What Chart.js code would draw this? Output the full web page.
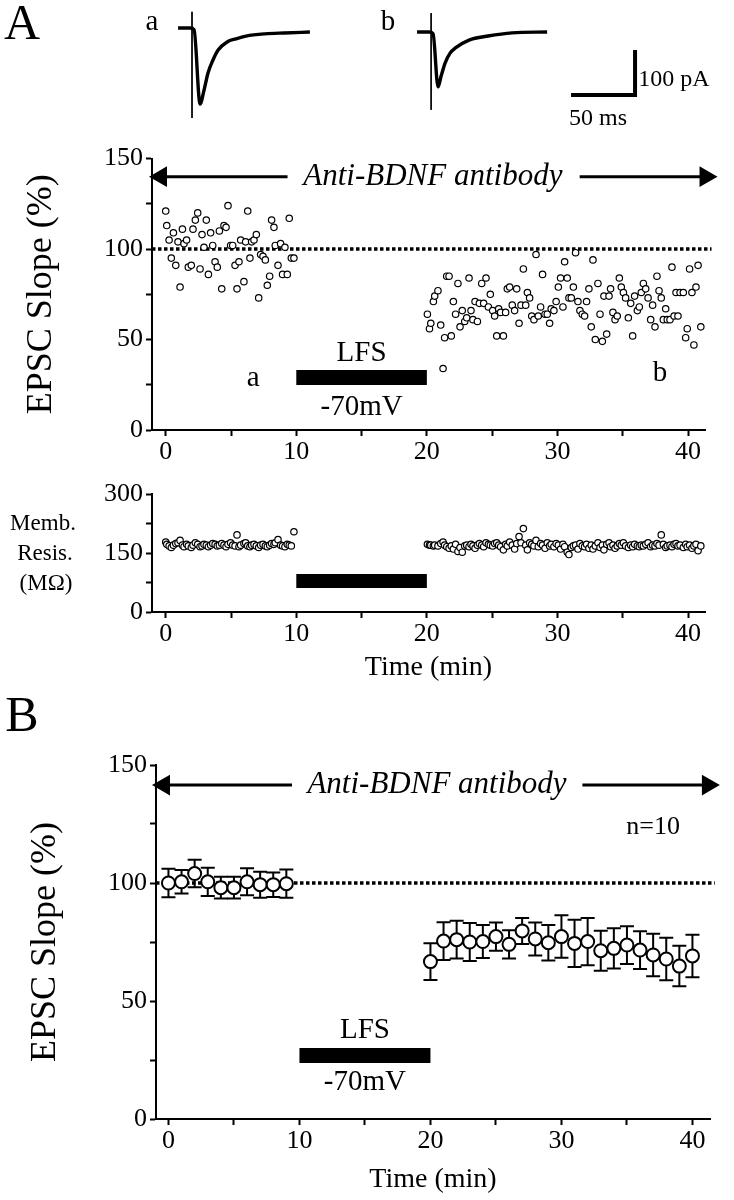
<!DOCTYPE html>
<html>
<head>
<meta charset="utf-8">
<script src="https://cdn.jsdelivr.net/npm/chart.js@4.4.0/dist/chart.umd.min.js"></script>
<style>
  body { margin: 0; background: #fff; }
  #page { position: relative; width: 734px; height: 1200px; font-family: "Liberation Serif", "Times New Roman", serif; color: #000; overflow: hidden; }
  canvas { position: absolute; left: 0; }
  .lbl { position: absolute; line-height: 1; white-space: nowrap; transform: translate(-50%, -50%); }
</style>
</head>
<body>
<div id="page">
  <canvas id="traces" width="734" height="140" style="top:0"></canvas>
  <canvas id="slopeA" width="734" height="330" style="top:140px"></canvas>
  <canvas id="resis" width="734" height="230" style="top:470px"></canvas>
  <canvas id="slopeB" width="734" height="460" style="top:740px"></canvas>

  <div class="lbl" style="left:22px;top:22px;font-size:50px">A</div>
  <div class="lbl" style="left:152px;top:20px;font-size:29px">a</div>
  <div class="lbl" style="left:388px;top:20px;font-size:29px">b</div>
  <div class="lbl" style="left:674px;top:78px;font-size:24px">100 pA</div>
  <div class="lbl" style="left:598px;top:117px;font-size:24px">50 ms</div>
  <div class="lbl" style="left:43px;top:522px;font-size:23px">Memb.</div>
  <div class="lbl" style="left:45px;top:552px;font-size:23px">Resis.</div>
  <div class="lbl" style="left:46px;top:582px;font-size:23px">(M&#937;)</div>
  <div class="lbl" style="left:22px;top:714px;font-size:50px">B</div>
</div>
<script>
// ---- data ----
// sample EPSC traces (ms, pA)
const traceATime = [0, 9.4, 12.5, 17.2, 20.3, 23.4, 27.3, 31.3, 38.3, 45.3, 53.1, 68, 82.8, 103];
const traceACurrent = [0, 0, -4, -169, -138, -100, -71, -49, -31, -24, -18, -13, -11, -9];
const traceBTime = [0, 9.4, 12.5, 16.4, 18.8, 21.9, 25.8, 29.7, 40.6, 55.5, 74.2, 101.6];
const traceBCurrent = [0, 0, -4, -122, -98, -69, -47, -36, -18, -9, -2, 0];
const artifactA = [36, -200];
const artifactB = [42, -173];
const scaleBarMs = 50;
const scaleBarPa = 100;

// single experiment, time (min)
const timesPre = [0, 0.08, 0.26, 0.43, 0.59, 0.77, 0.94, 1.1, 1.28, 1.4, 1.6, 1.73, 1.96, 2.09, 2.27, 2.45, 2.63, 2.78, 2.93, 3.11,
  3.27, 3.44, 3.6, 3.78, 3.95, 4.11, 4.29, 4.46, 4.62, 4.77, 4.97, 5.13, 5.31, 5.46, 5.61, 5.74, 5.99, 6.12, 6.28, 6.45,
  6.58, 6.76, 6.94, 7.12, 7.27, 7.45, 7.63, 7.78, 7.96, 8.11, 8.29, 8.39, 8.6, 8.8, 8.95, 9.13, 9.31, 9.46, 9.62, 9.82];
const timesPost = [20.04, 20.2, 20.3, 20.5, 20.6, 20.85, 21.06, 21.24, 21.36, 21.52, 21.7, 21.87, 22.03, 22.2, 22.38, 22.54, 22.71, 22.9, 23.05, 23.23,
  23.38, 23.53, 23.69, 23.87, 24.02, 24.2, 24.35, 24.53, 24.71, 24.86, 25.04, 25.19, 25.35, 25.5, 25.65, 25.86, 26.03, 26.16, 26.34, 26.54,
  26.72, 26.88, 27.06, 27.21, 27.39, 27.57, 27.7, 27.87, 28.03, 28.2, 28.36, 28.53, 28.71, 28.86, 29.05, 29.22, 29.4, 29.52, 29.73, 29.9,
  30.07, 30.24, 30.42, 30.55, 30.75, 30.88, 31.06, 31.22, 31.39, 31.57, 31.72, 31.9, 32.08, 32.23, 32.41, 32.59, 32.72, 32.9, 33.1, 33.26,
  33.44, 33.56, 33.77, 33.95, 34.07, 34.25, 34.41, 34.58, 34.74, 34.89, 35.05, 35.22, 35.43, 35.61, 35.76, 35.91, 36.12, 36.27, 36.42, 36.58,
  36.76, 36.94, 37.14, 37.29, 37.47, 37.62, 37.78, 37.95, 38.11, 38.29, 38.41, 38.62, 38.77, 38.93, 39.08, 39.23, 39.39, 39.64, 39.82, 39.94,
  40.12, 40.3, 40.45, 40.61, 40.77, 40.98];
const slopePre = [121, 113, 105, 95, 109, 91, 104, 79, 111, 103, 105, 90, 91, 111, 116, 120, 89, 108, 101, 116,
  86, 109, 102, 93, 90, 110, 78, 113, 112, 124, 102, 102, 91, 78, 93, 105, 82, 104, 121, 95,
  104, 105, 108, 73, 97, 96, 94, 80, 85, 116, 112, 102, 91, 103, 86, 101, 86, 117, 95, 95];
const slopePost = [64, 56, 59, 71, 74, 77, 58, 34, 51, 85, 85, 52, 71, 64, 81, 57, 66, 60, 62, 84,
  66, 61, 71, 60, 70, 81, 70, 84, 68, 75, 66, 63, 52, 67, 65, 52, 65, 78, 79, 69,
  66, 78, 59, 69, 89, 69, 76, 73, 63, 61, 97, 63, 68, 86, 64, 64, 59, 67, 66, 71,
  79, 84, 68, 93, 84, 73, 73, 79, 98, 71, 66, 64, 63, 71, 78, 57, 94, 50, 81, 64,
  49, 74, 53, 74, 78, 65, 61, 63, 84, 79, 76, 73, 62, 70, 52, 74, 66, 68, 76, 81,
  78, 73, 61, 69, 57, 85, 77, 73, 61, 67, 61, 61, 90, 63, 76, 63, 76, 76, 51, 56,
  89, 76, 47, 79, 91, 57];
const resisPre = [178, 172, 168, 164, 170, 174, 176, 182, 170, 166, 172, 168, 164, 170, 176, 172, 166, 168, 172, 170,
  166, 170, 174, 172, 168, 170, 174, 170, 166, 172, 176, 170, 168, 196, 166, 170, 174, 176, 168, 166,
  170, 172, 168, 164, 170, 172, 168, 166, 170, 174, 172, 176, 184, 170, 168, 166, 172, 170, 168, 204];
const resisPost = [172, 170, 170, 168, 170, 168, 174, 178, 170, 166, 162, 168, 160, 172, 154, 164, 152, 168, 170, 166,
  172, 168, 162, 170, 174, 170, 166, 176, 172, 170, 168, 174, 176, 170, 166, 158, 172, 168, 178, 170,
  160, 174, 192, 176, 212, 170, 158, 176, 172, 168, 182, 166, 174, 170, 162, 176, 168, 172, 166, 174,
  170, 160, 172, 166, 152, 146, 164, 168, 170, 160, 174, 168, 166, 172, 162, 170, 160, 168, 176, 164,
  170, 158, 172, 176, 166, 170, 162, 168, 174, 170, 176, 168, 164, 170, 166, 172, 168, 166, 170, 168,
  172, 176, 166, 170, 168, 174, 170, 196, 172, 164, 168, 170, 166, 172, 174, 168, 170, 164, 172, 166,
  170, 162, 168, 172, 156, 168];

// averaged, n=10
const meanTime = [0, 1, 2, 3, 4, 5, 6, 7, 8, 9,
  20, 21, 22, 23, 24, 25, 26, 27, 28, 29, 30, 31, 32, 33, 34, 35, 36, 37, 38, 39, 40];
const meanSlope = [100, 100.5, 104, 100.5, 98, 98, 100.5, 99.3, 99.3, 99.7,
  66.7, 75.4, 76, 75, 75.2, 77.3, 74, 79.7, 76.3, 74.7, 77.3, 74.4, 75.2, 71.3, 72.3, 73.7, 71.6, 69.5, 67.8, 64.8, 69.1];
const semSlope = [6, 5, 5.8, 6, 4.6, 4.6, 5.7, 5.5, 5.2, 6,
  7.8, 8, 8, 8, 7, 6, 6, 5.5, 7, 7.5, 9, 10, 10, 8.5, 8.5, 8, 8, 9, 9, 8.6, 9];

const lfsWindow = [10, 20];
const baseline = 100;
const timeTicks = [0, 5, 10, 15, 20, 25, 30, 35, 40];
const slopeTicks = [0, 25, 50, 75, 100, 125, 150];
const resisTicks = [0, 75, 150, 225, 300];

// ---- helpers ----
const serif = '"Liberation Serif", "Times New Roman", serif';
const pts = (xs, ys) => xs.map((x, i) => ({x, y: ys[i]}));

function xAxis(min, max, height, titlePad) {
  return {
    type: 'linear', min, max,
    afterBuildTicks: s => { s.ticks = timeTicks.map(v => ({value: v})); },
    afterFit: s => { s.height = height; },
    ticks: {font: {family: serif, size: 26}, color: '#000', padding: 1, maxRotation: 0, autoSkip: false,
      callback: v => (v % 10 === 0 ? String(v) : '')},
    grid: {display: true, drawOnChartArea: false, drawTicks: true, tickLength: 6, tickWidth: 2, tickColor: '#000'},
    border: {display: true, color: '#000', width: 2},
    title: titlePad == null ? {display: false} :
      {display: true, text: 'Time (min)', font: {family: serif, size: 28}, color: '#000', padding: {top: 0, bottom: titlePad}}
  };
}
function yAxis(ticks, labelEvery, width, title, titlePad) {
  return {
    type: 'linear', min: ticks[0], max: ticks[ticks.length - 1],
    afterBuildTicks: s => { s.ticks = ticks.map(v => ({value: v})); },
    afterFit: s => { s.width = width; },
    ticks: {font: {family: serif, size: 26}, color: '#000', padding: 3, autoSkip: false,
      callback: v => (v % labelEvery === 0 ? String(v) : '')},
    grid: {display: true, drawOnChartArea: false, drawTicks: true, tickLength: 6, tickWidth: 2, tickColor: '#000'},
    border: {display: true, color: '#000', width: 2},
    title: title ? {display: true, text: title, font: {family: serif, size: 36}, color: '#000', padding: {top: titlePad, bottom: 0}} : {display: false}
  };
}
// error bars under the points, text labels on top
function marks(texts, errors) {
  return {
    id: 'marks',
    beforeDatasetsDraw(chart) {
      if (!errors) return;
      const {ctx, scales: {x, y}} = chart;
      ctx.save();
      ctx.strokeStyle = '#000';
      ctx.lineWidth = 2;
      errors.x.forEach((t, i) => {
        const px = x.getPixelForValue(t);
        const top = y.getPixelForValue(errors.y[i] + errors.err[i]);
        const bot = y.getPixelForValue(errors.y[i] - errors.err[i]);
        ctx.beginPath();
        ctx.moveTo(px, top); ctx.lineTo(px, bot);
        ctx.moveTo(px - 7, top); ctx.lineTo(px + 7, top);
        ctx.moveTo(px - 7, bot); ctx.lineTo(px + 7, bot);
        ctx.stroke();
      });
      ctx.restore();
    },
    afterDatasetsDraw(chart) {
      const {ctx, scales: {x, y}} = chart;
      ctx.save();
      ctx.fillStyle = '#000';
      ctx.textAlign = 'center';
      ctx.textBaseline = 'middle';
      texts.forEach(t => {
        ctx.font = t.font;
        ctx.fillText(t.text, x.getPixelForValue(t.x), y.getPixelForValue(t.y));
      });
      ctx.restore();
    }
  };
}
function line(data, width, extra) {
  return Object.assign({type: 'scatter', data, showLine: true, borderColor: '#000', backgroundColor: '#000',
    borderWidth: width, pointRadius: 0, clip: false}, extra || {});
}
function arrows(leftTip, leftEnd, rightStart, rightTip, yv) {
  return [
    line([{x: leftTip, y: yv}, {x: leftEnd, y: yv}], 3,
      {pointRadius: [9, 0], pointStyle: 'triangle', pointRotation: -90}),
    line([{x: rightStart, y: yv}, {x: rightTip, y: yv}], 3,
      {pointRadius: [0, 9], pointStyle: 'triangle', pointRotation: 90})
  ];
}
const base = {
  responsive: false, animation: false, events: [],
  plugins: {legend: {display: false}, tooltip: {enabled: false}}
};

// ---- traces ----
const TRACE_B_SHIFT_MS = 186.7, TRACE_B_SHIFT_PA = -8.9;
const BAR_END_MS = 357, BAR_END_PA = -149;
new Chart(document.getElementById('traces'), {
  type: 'scatter',
  data: {datasets: [
    line(pts(traceATime, traceACurrent), 3.4, {cubicInterpolationMode: 'monotone'}),
    line([{x: 10.9, y: artifactA[0]}, {x: 10.9, y: artifactA[1]}], 1),
    line(pts(traceBTime.map(t => t + TRACE_B_SHIFT_MS), traceBCurrent.map(v => v + TRACE_B_SHIFT_PA)), 3.4, {cubicInterpolationMode: 'monotone'}),
    line([{x: 11 + TRACE_B_SHIFT_MS, y: artifactB[0] + TRACE_B_SHIFT_PA}, {x: 11 + TRACE_B_SHIFT_MS, y: artifactB[1] + TRACE_B_SHIFT_PA}], 1),
    line([{x: BAR_END_MS - scaleBarMs, y: BAR_END_PA}, {x: BAR_END_MS, y: BAR_END_PA}, {x: BAR_END_MS, y: BAR_END_PA + scaleBarPa}], 4)
  ]},
  options: Object.assign({}, base, {
    layout: {padding: 0},
    scales: {
      x: {type: 'linear', display: false, min: -139.1, max: 434.3},
      y: {type: 'linear', display: false, min: -248.9, max: 62.2}
    }
  })
});

// ---- A: EPSC slope ----
new Chart(document.getElementById('slopeA'), {
  type: 'scatter',
  data: {datasets: [
    {data: pts(timesPre.concat(timesPost), slopePre.concat(slopePost)), pointRadius: 3.2, borderWidth: 1.2,
      pointBorderColor: '#000', pointBackgroundColor: '#fff'},
    line([{x: lfsWindow[0], y: 29}, {x: lfsWindow[1], y: 29}], 15, {borderCapStyle: 'butt'}),
    line([{x: -1.05, y: baseline}, {x: 41.8, y: baseline}], 3.5, {borderDash: [3.5, 2.5]}),
    ...arrows(-0.36, 9.33, 31.7, 41.34, 140)
  ]},
  options: Object.assign({}, base, {
    layout: {padding: {top: 18, right: 29, left: 0, bottom: 0}},
    scales: {x: xAxis(-1.05, 41.3, 40, null), y: yAxis(slopeTicks, 50, 152, 'EPSC Slope (%)', 20)}
  }),
  plugins: [marks([
    {text: 'Anti-BDNF antibody', x: 20.46, y: 140, font: 'italic 31px ' + serif},
    {text: 'LFS', x: 15, y: 42.5, font: '29px ' + serif},
    {text: '-70mV', x: 15, y: 12.7, font: '29px ' + serif},
    {text: 'a', x: 6.7, y: 28.7, font: '29px ' + serif},
    {text: 'b', x: 37.85, y: 31.4, font: '29px ' + serif}
  ])]
});

// ---- A: membrane resistance ----
new Chart(document.getElementById('resis'), {
  type: 'scatter',
  data: {datasets: [
    {data: pts(timesPre.concat(timesPost), resisPre.concat(resisPost)), pointRadius: 3.2, borderWidth: 1.2,
      pointBorderColor: '#000', pointBackgroundColor: '#fff'},
    line([{x: lfsWindow[0], y: 79}, {x: lfsWindow[1], y: 79}], 14, {borderCapStyle: 'butt'})
  ]},
  options: Object.assign({}, base, {
    layout: {padding: {top: 24, right: 29, left: 0, bottom: 0}},
    scales: {x: xAxis(-1.05, 41.3, 88, 16), y: yAxis(resisTicks, 150, 152, null)}
  })
});

// ---- B: averaged EPSC slope ----
new Chart(document.getElementById('slopeB'), {
  type: 'scatter',
  data: {datasets: [
    {data: pts(meanTime, meanSlope), pointRadius: 6.5, borderWidth: 2,
      pointBorderColor: '#000', pointBackgroundColor: '#fff'},
    line([{x: lfsWindow[0], y: 26.9}, {x: lfsWindow[1], y: 26.9}], 15, {borderCapStyle: 'butt'}),
    line([{x: -0.95, y: baseline}, {x: 41.7, y: baseline}], 3.5, {borderDash: [3.5, 2.5]}),
    ...arrows(-0.34, 9.43, 31.6, 41.18, 141.5)
  ]},
  options: Object.assign({}, base, {
    layout: {padding: {top: 25, right: 24, left: 0, bottom: 0}},
    scales: {x: xAxis(-0.95, 41.34, 81, 4), y: yAxis(slopeTicks, 50, 156, 'EPSC Slope (%)', 24)}
  }),
  plugins: [marks([
    {text: 'Anti-BDNF antibody', x: 20.5, y: 141.5, font: 'italic 31px ' + serif},
    {text: 'n=10', x: 37, y: 123.7, font: '26px ' + serif},
    {text: 'LFS', x: 15, y: 37.7, font: '29px ' + serif},
    {text: '-70mV', x: 15, y: 15.7, font: '29px ' + serif}
  ], {x: meanTime, y: meanSlope, err: semSlope})]
});
</script>
</body>
</html>
